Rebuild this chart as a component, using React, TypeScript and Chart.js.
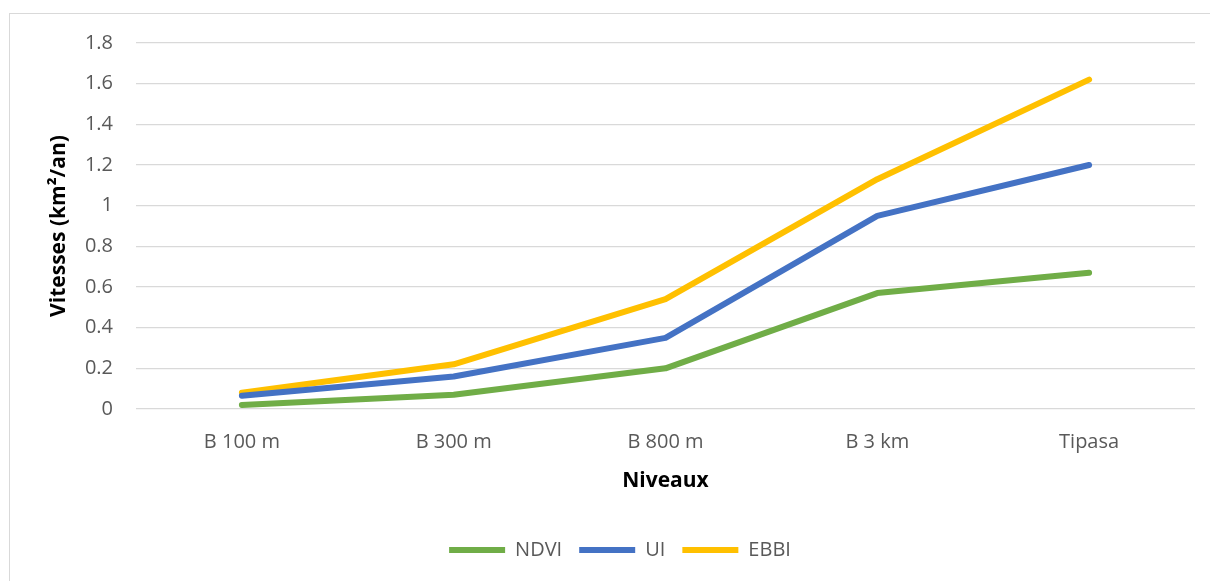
import React, { useEffect, useRef } from "react";
import { Chart, registerables } from "chart.js";

Chart.register(...registerables);

const categories = ["B 100 m", "B 300 m", "B 800 m", "B 3 km", "Tipasa"];
const ndvi = [0.02, 0.07, 0.2, 0.57, 0.67];
const ui = [0.065, 0.16, 0.35, 0.95, 1.2];
const ebbi = [0.08, 0.22, 0.54, 1.13, 1.62];
const yTitle = "Vitesses (km²/an)";
const xTitle = "Niveaux";

const FONT = "'Open Sans', sans-serif";

export default function App() {
  const ref = useRef<HTMLCanvasElement | null>(null);

  useEffect(() => {
    if (!ref.current) return;
    const mk = (label: string, data: number[], color: string) => ({
      label,
      data,
      borderColor: color,
      backgroundColor: color,
      borderWidth: 6,
      borderCapStyle: "round" as const,
      borderJoinStyle: "round" as const,
      pointRadius: 0,
      pointHoverRadius: 0,
      pointStyle: "line" as const,
      tension: 0,
      fill: false,
    });
    const chart = new Chart(ref.current, {
      type: "line",
      data: {
        labels: categories,
        datasets: [
          mk("NDVI", ndvi, "#70AD47"),
          mk("UI", ui, "#4472C4"),
          mk("EBBI", ebbi, "#FFC000"),
        ],
      },
      options: {
        animation: false,
        responsive: false,
        maintainAspectRatio: false,
        layout: { padding: { left: 45, right: 15, top: 43, bottom: 11 } },
        plugins: {
          tooltip: { enabled: false },
          legend: {
            position: "bottom",
            align: "center",
            labels: {
              usePointStyle: true,
              pointStyleWidth: 56,
              boxHeight: 20,
              padding: 17,
              color: "#595959",
              font: { family: FONT, size: 20 },
            },
          },
        },
        scales: {
          x: {
            offset: true,
            grid: { display: false, drawTicks: false },
            border: { display: false },
            ticks: {
              color: "#595959",
              padding: 21,
              maxRotation: 0,
              font: { family: FONT, size: 20 },
            },
            title: {
              display: true,
              text: xTitle,
              color: "#000000",
              font: { family: FONT, size: 21, weight: "bold" },
              padding: { top: 4, bottom: 29 },
            },
            afterFit: (s: any) => {
              s.height = 114;
            },
          },
          y: {
            min: 0,
            max: 1.8,
            grid: { color: "#d9d9d9", lineWidth: 1.3, drawTicks: false },
            border: { display: false },
            ticks: {
              stepSize: 0.2,
              color: "#595959",
              padding: 23,
              font: { family: FONT, size: 20 },
              callback: (v: any) => {
                const n = Math.round(Number(v) * 10) / 10;
                return String(n);
              },
            },
            title: {
              display: true,
              text: yTitle,
              color: "#000000",
              font: { family: FONT, size: 21, weight: "bold" },
              padding: { top: 1, bottom: 4 },
            },
            afterFit: (s: any) => {
              s.width = 91;
            },
          },
        },
      },
    });
    return () => chart.destroy();
  }, []);

  return (
    <div
      style={{
        position: "fixed",
        left: 0,
        top: 0,
        width: 1210,
        height: 581,
        overflow: "hidden",
        background: "#ffffff",
      }}
    >
      <div
        style={{
          position: "absolute",
          left: 9,
          top: 13,
          width: 1240,
          height: 640,
          border: "1px solid #d9d9d9",
          boxSizing: "border-box",
        }}
      />
      <canvas
        ref={ref}
        width={1210}
        height={581}
        style={{ position: "absolute", left: 0, top: 0, width: 1210, height: 581 }}
      />
    </div>
  );
}
